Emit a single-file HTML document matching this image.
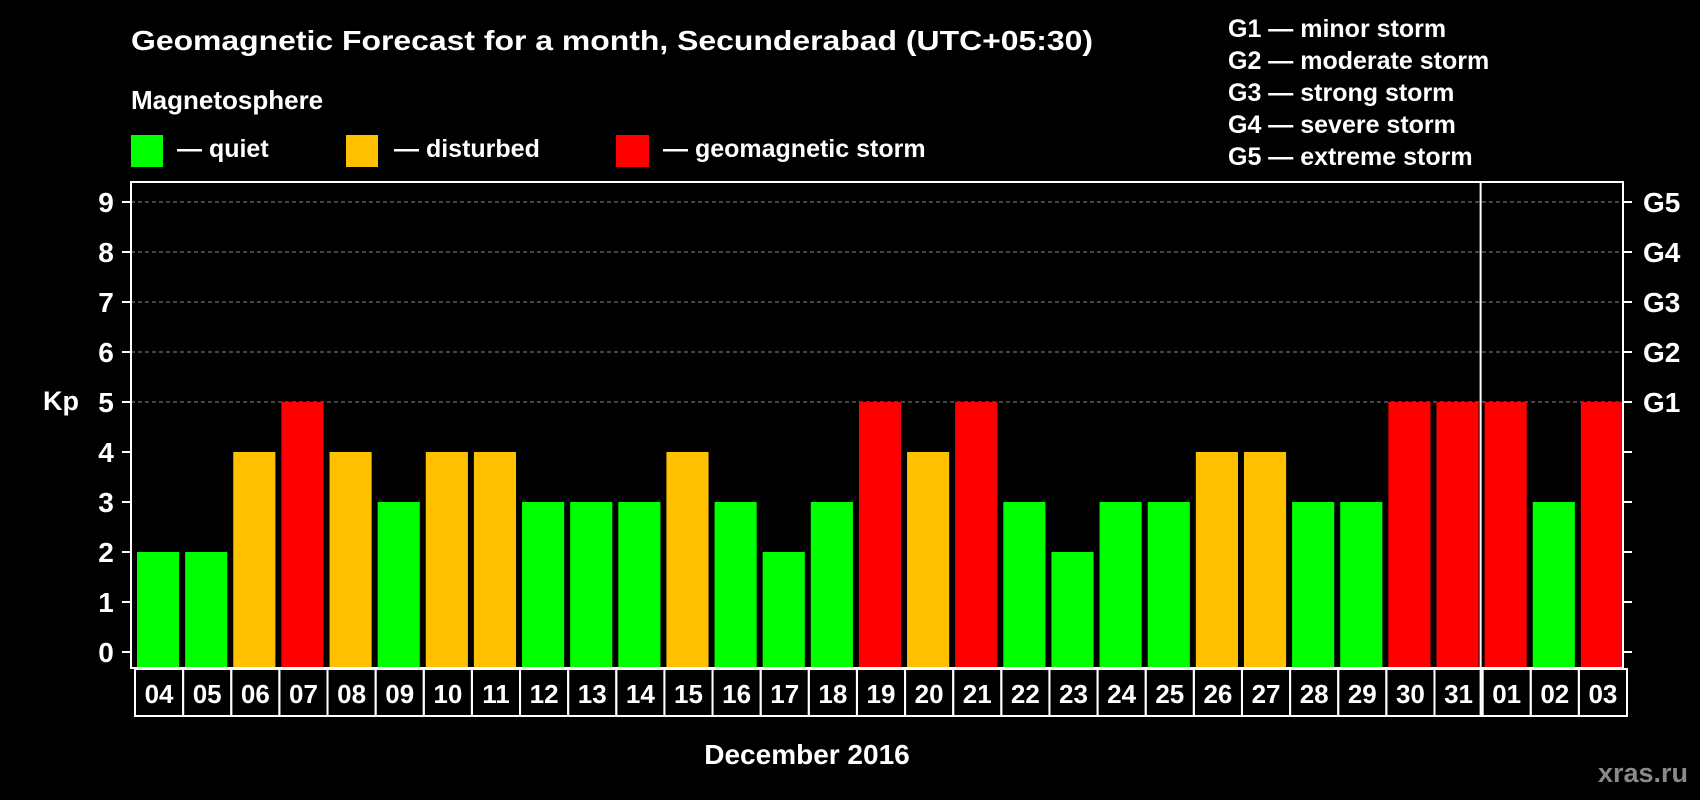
<!DOCTYPE html>
<html><head><meta charset="utf-8"><style>
html,body{margin:0;padding:0;background:#000;}
svg{display:block;font-family:"Liberation Sans",Arial,sans-serif;font-weight:bold;}
</style></head><body>
<svg id="chart" width="1700" height="800" viewBox="0 0 1700 800">
<rect width="1700" height="800" fill="#000"/>
<text x="131" y="50" fill="#fff" font-size="28" textLength="962" lengthAdjust="spacingAndGlyphs">Geomagnetic Forecast for a month, Secunderabad (UTC+05:30)</text>
<text x="131" y="109" fill="#fff" font-size="26">Magnetosphere</text>
<g><rect x="131" y="135" width="32" height="32" fill="#00ff00"/><text x="177" y="157" fill="#fff" font-size="25">— quiet</text></g>
<g><rect x="346" y="135" width="32" height="32" fill="#ffc000"/><text x="394" y="157" fill="#fff" font-size="25">— disturbed</text></g>
<g><rect x="616" y="135" width="33" height="32" fill="#ff0000"/><text x="663" y="157" fill="#fff" font-size="25">— geomagnetic storm</text></g>
<g fill="#fff" font-size="25">
<text x="1228" y="37">G1 — minor storm</text>
<text x="1228" y="69">G2 — moderate storm</text>
<text x="1228" y="101">G3 — strong storm</text>
<text x="1228" y="133">G4 — severe storm</text>
<text x="1228" y="165">G5 — extreme storm</text>
</g>
<text x="43" y="410" fill="#fff" font-size="27">Kp</text>
<text x="807" y="764" fill="#fff" font-size="28" text-anchor="middle">December 2016</text>
<text x="1688" y="782" fill="#8a8a8a" font-size="27" text-anchor="end">xras.ru</text>
<g id="plot"></g>
</svg>
<script>
const days = ["04","05","06","07","08","09","10","11","12","13","14","15","16","17","18","19","20","21","22","23","24","25","26","27","28","29","30","31","01","02","03"];
const kpValues = [2,2,4,5,4,3,4,4,3,3,3,4,3,2,3,5,4,5,3,2,3,3,4,4,3,3,5,5,5,3,5];
const yTicks = [0,1,2,3,4,5,6,7,8,9];
const gLabels = ["G1","G2","G3","G4","G5"];
const gLevels = [5,6,7,8,9];
const monthBreakIndex = 28;

const NS = "http://www.w3.org/2000/svg";
const L = 131, R = 1623, T = 182, B = 668;
const y0 = 652, unit = 50;
const slot = (R - L) / days.length;
function yScale(v){ return y0 - v * unit; }
function xScale(i){ return L + i * slot; }
function color(v){ return v >= 5 ? "#ff0000" : (v >= 4 ? "#ffc000" : "#00ff00"); }
const g = document.getElementById("plot");
function mk(tag, attrs){ const e = document.createElementNS(NS, tag); for (const k in attrs) e.setAttribute(k, attrs[k]); g.appendChild(e); return e; }

yTicks.forEach(v => {
  const y = yScale(v);
  if (v >= 5) {
    const gl = mk("line", {x1: L, x2: R, y1: y, y2: y, stroke: "#888", "stroke-width": 1, "stroke-dasharray": "4,3"});
    
    
  }
  const t1 = mk("line", {x1: L - 9, x2: L, y1: y, y2: y, stroke: "#fff", "stroke-width": 2});
  
  
  const t2 = mk("line", {x1: R, x2: R + 9, y1: y, y2: y, stroke: "#fff", "stroke-width": 2});
  
  
  const lb = mk("text", {x: 106, y: y + 10, fill: "#fff", "font-size": 28, "text-anchor": "middle"});
  lb.textContent = v;
  
  
});
gLabels.forEach((s, i) => {
  const lb = mk("text", {x: 1643, y: yScale(gLevels[i]) + 10, fill: "#fff", "font-size": 28});
  lb.textContent = s;
  
  
});
kpValues.forEach((v, i) => {
  const x = xScale(i);
  const b = mk("rect", {x: x + 6, y: yScale(v), width: slot - 6, height: B - 1 - yScale(v), fill: color(v)});
  
  
  const bx = mk("rect", {x: x + 4, y: B + 1, width: slot, height: 47, fill: "none", stroke: "#fff", "stroke-width": 2});
  
  
  const lb = mk("text", {x: x + 4 + slot / 2, y: B + 35, fill: "#fff", "font-size": 26, "text-anchor": "middle"});
  lb.textContent = days[i];
  
  
});
const frame = mk("rect", {x: L, y: T, width: R - L, height: B - T, fill: "none", stroke: "#fff", "stroke-width": 2});


const div = mk("line", {x1: xScale(monthBreakIndex) + 2, x2: xScale(monthBreakIndex) + 2, y1: T, y2: B + 48, stroke: "#fff", "stroke-width": 2});


</script>
</body></html>
